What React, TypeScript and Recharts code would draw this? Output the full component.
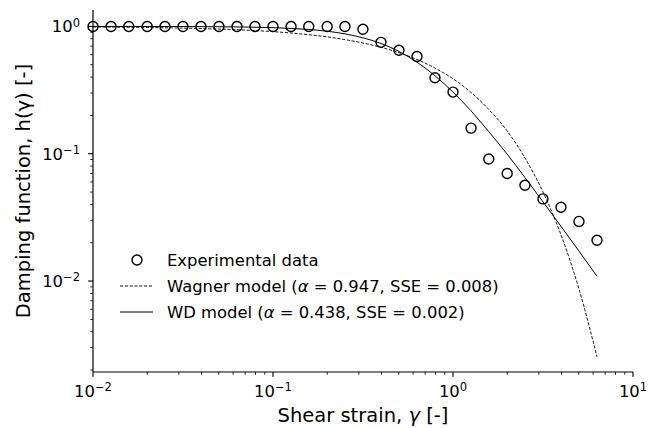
import React from 'react';
import { ComposedChart, Line, Scatter, XAxis, YAxis, Legend } from 'recharts';

// Shear strain values (x), log-spaced as in the figure
const strain = [
  0.01, 0.0126, 0.0158, 0.02, 0.0251, 0.0316, 0.0398, 0.0501, 0.0631, 0.0794,
  0.1, 0.126, 0.158, 0.2, 0.251, 0.316, 0.398, 0.501, 0.631, 0.794,
  1.0, 1.26, 1.58, 2.0, 2.51, 3.16, 3.98, 5.01, 6.31,
];

// Experimental damping function h(gamma)
const experimental = [
  1, 1, 1, 1, 1, 1, 1, 1, 1, 1,
  1, 1, 1, 1, 1, 0.95, 0.75, 0.65, 0.58, 0.395,
  0.305, 0.159, 0.091, 0.07, 0.0566, 0.0442, 0.038, 0.0294, 0.0209,
];

// Wagner model curve (dashed)
const wagner = [
  0.991, 0.988, 0.985, 0.981, 0.976, 0.97, 0.963, 0.954, 0.942, 0.928,
  0.91, 0.888, 0.861, 0.828, 0.788, 0.741, 0.686, 0.622, 0.55, 0.471,
  0.388, 0.303, 0.223, 0.151, 0.0927, 0.0501, 0.0231, 0.00867, 0.00254,
];

// WD model curve (solid)
const wdModel = [
  1.0, 1.0, 0.999, 0.999, 0.999, 0.998, 0.996, 0.994, 0.991, 0.986,
  0.978, 0.965, 0.946, 0.917, 0.874, 0.814, 0.735, 0.636, 0.524, 0.41,
  0.305, 0.217, 0.149, 0.0992, 0.065, 0.042, 0.0269, 0.0172, 0.0109,
];

const xTicks = [
  0.01, 0.02, 0.03, 0.04, 0.05, 0.06, 0.07, 0.08, 0.09,
  0.1, 0.2, 0.3, 0.4, 0.5, 0.6, 0.7, 0.8, 0.9,
  1, 2, 3, 4, 5, 6, 7, 8, 9, 10,
];
const yTicks = [
  0.002, 0.003, 0.004, 0.005, 0.006, 0.007, 0.008, 0.009,
  0.01, 0.02, 0.03, 0.04, 0.05, 0.06, 0.07, 0.08, 0.09,
  0.1, 0.2, 0.3, 0.4, 0.5, 0.6, 0.7, 0.8, 0.9, 1,
];

const X_DOMAIN: [number, number] = [0.01, 10];
const Y_DOMAIN: [number, number] = [0.00193, 1.346];

const FONT = 'DejaVu Sans';
const INK = '#000';
const TICK_FS = 16.4;
const SUP_FS = 11.5;
const TITLE_FS = 19.5;

const data = strain.map((x, i) => ({
  x,
  exp: experimental[i],
  wagner: wagner[i],
  wd: wdModel[i],
}));

const expLabel = (v: number) => {
  const e = Math.round(Math.log10(v));
  const major = Math.abs(Math.log10(v) - e) < 1e-6;
  return { e, major };
};

const supText = (e: number) => (e < 0 ? '\u2212' + String(-e) : String(e));

const XTick = (props: any) => {
  const x = Number(props.x);
  const y = Number(props.y);
  const { e, major } = expLabel(props.payload.value);
  const len = major ? 4.9 : 2.8;
  const w = major ? 1.1 : 0.8;
  return (
    <g>
      <rect x={x - w / 2} y={y} width={w} height={len} fill={INK} stroke="none" />
      {major && (
        <text x={x} y={y + 24.7} textAnchor="middle" fontSize={TICK_FS} fontFamily={FONT} fill={INK} stroke="none">
          10
          <tspan dy={-5.5} fontSize={SUP_FS}>{supText(e)}</tspan>
        </text>
      )}
    </g>
  );
};

const YTick = (props: any) => {
  const x = Number(props.x);
  const y = Number(props.y);
  const { e, major } = expLabel(props.payload.value);
  const len = major ? 4.9 : 2.8;
  const w = major ? 1.1 : 0.8;
  return (
    <g>
      <rect x={x - len} y={y - w / 2} width={len} height={w} fill={INK} stroke="none" />
      {major && (
        <text x={x - 13} y={y + 5.8} textAnchor="end" fontSize={TICK_FS} fontFamily={FONT} fill={INK} stroke="none">
          10
          <tspan dy={-5.5} fontSize={SUP_FS}>{supText(e)}</tspan>
        </text>
      )}
    </g>
  );
};

const XTitle = () => (
  <text x={363} y={422} textAnchor="middle" fontSize={TITLE_FS} fontFamily={FONT} fill={INK}>
    Shear strain, <tspan fontStyle="italic">γ</tspan> [-]
  </text>
);

const YTitle = () => (
  <text
    x={29.5}
    y={191}
    textAnchor="middle"
    fontSize={TITLE_FS}
    fontFamily={FONT}
    fill={INK}
    transform="rotate(-90, 29.5, 191)"
  >
    Damping function, h(γ) [-]
  </text>
);

const legendRows = [
  { kind: 'circle', label: 'Experimental data', alpha: '', sse: '' },
  { kind: 'dashed', label: 'Wagner model (', alpha: '0.947', sse: '0.008' },
  { kind: 'solid', label: 'WD model (', alpha: '0.438', sse: '0.002' },
];

const renderLegend = () => (
  <svg width={430} height={90} style={{ overflow: 'visible' }}>
    {legendRows.map((r, i) => {
      const cy = 20 + i * 26;
      return (
        <g key={r.kind}>
          {r.kind === 'circle' && <circle cx={37} cy={cy} r={5} fill="none" stroke={INK} strokeWidth={1.4} />}
          {r.kind === 'dashed' && (
            <line x1={20} x2={53} y1={cy} y2={cy} stroke={INK} strokeWidth={0.9} strokeDasharray="3.2 1.6" />
          )}
          {r.kind === 'solid' && <line x1={20} x2={53} y1={cy} y2={cy} stroke={INK} strokeWidth={1} />}
          <text x={67} y={cy + 6.3} fontSize={TICK_FS} fontFamily={FONT} fill={INK}>
            {r.alpha ? (
              <>
                {r.label}
                <tspan fontStyle="italic">α</tspan>
                {' = ' + r.alpha + ', SSE = ' + r.sse + ')'}
              </>
            ) : (
              r.label
            )}
          </text>
        </g>
      );
    })}
  </svg>
);

const Circle = (props: any) => {
  const { cx, cy } = props;
  if (cx == null || cy == null) return null;
  return <circle cx={cx} cy={cy} r={5} fill="none" stroke={INK} strokeWidth={1.4} />;
};

export default function App() {
  return (
    <div style={{ position: 'absolute', left: 0, top: 0, background: '#fff' }}>
      <ComposedChart
        width={662}
        height={428}
        data={data}
        margin={{ top: 10, right: 29, left: 0, bottom: 0 }}
      >
        <XAxis
          dataKey="x"
          type="number"
          scale="log"
          domain={X_DOMAIN}
          ticks={xTicks}
          interval={0}
          height={56}
          tickSize={0}
          tickMargin={0}
          tickLine={false}
          tick={<XTick />}
          axisLine={{ stroke: INK, strokeWidth: 1.2 }}
          label={{ content: () => <XTitle /> }}
        />
        <XAxis
          xAxisId="top"
          orientation="top"
          type="number"
          scale="log"
          domain={X_DOMAIN}
          height={0}
          tick={false}
          tickLine={false}
          axisLine={{ stroke: INK, strokeWidth: 1.2 }}
        />
        <YAxis
          type="number"
          scale="log"
          domain={Y_DOMAIN}
          ticks={yTicks}
          interval={0}
          width={93}
          tickSize={0}
          tickMargin={0}
          tickLine={false}
          tick={<YTick />}
          axisLine={{ stroke: INK, strokeWidth: 1.2 }}
          label={{ content: () => <YTitle /> }}
        />
        <YAxis
          yAxisId="right"
          orientation="right"
          type="number"
          scale="log"
          domain={Y_DOMAIN}
          width={0}
          tick={false}
          tickLine={false}
          axisLine={{ stroke: INK, strokeWidth: 1.2 }}
        />
        <Line
          type="monotone"
          dataKey="wagner"
          stroke={INK}
          strokeWidth={0.9}
          strokeDasharray="3.2 1.6"
          dot={false}
          isAnimationActive={false}
        />
        <Line
          type="monotone"
          dataKey="wd"
          stroke={INK}
          strokeWidth={1}
          dot={false}
          isAnimationActive={false}
        />
        <Scatter dataKey="exp" shape={<Circle />} isAnimationActive={false} />
        <Legend
          layout="horizontal"
          align="center"
          verticalAlign="middle"
          content={renderLegend}
          wrapperStyle={{ left: 100, top: 240, width: 430, height: 90 }}
        />
      </ComposedChart>
    </div>
  );
}
